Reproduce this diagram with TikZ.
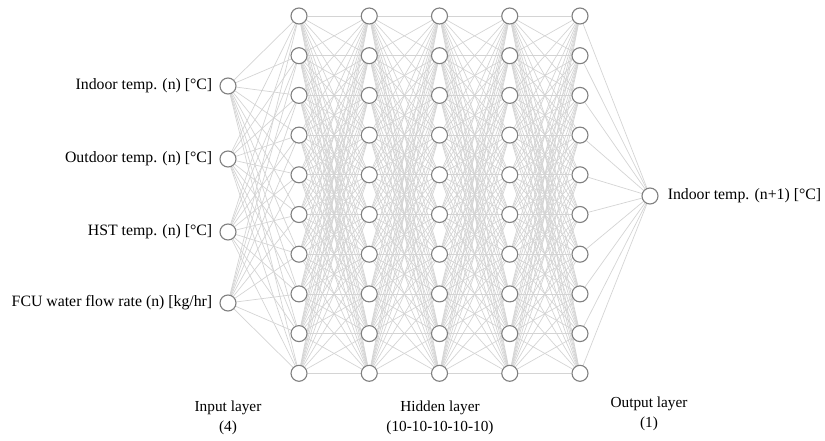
\documentclass[tikz,border=0pt]{standalone}
\usepackage{fontspec}
\setmainfont{Liberation Serif}
\usetikzlibrary{positioning,backgrounds}
\begin{document}
\begin{tikzpicture}[x=1pt,y=-1pt,
  neuron/.style={circle, draw=black!50, line width=1.1pt, fill=white,
                 minimum size=16pt, inner sep=0pt},
  link/.style={draw=black!17, line width=0.7pt},
  lab/.style={font=\fontsize{15.8}{19.5}\selectfont, inner sep=0pt},
  caption/.style={font=\fontsize{15.3}{19.5}\selectfont, inner sep=0pt, align=center}]
\useasboundingbox (0,0) rectangle (825,441);

% input layer
\foreach \r/\y in {1/86,2/159,3/232,4/303}
  \node[neuron] (i\r) at (228,\y) {};

% hidden layers (5 x 10)
\foreach \c in {1,...,5}
  \foreach \r in {1,...,10}
    \node[neuron] (h\c-\r) at ({299+70.25*(\c-1)},{16+39.7*(\r-1)}) {};

% output layer
\node[neuron] (o) at (650,196) {};

% input and output names
\node[lab, left=7pt of i1] (t1) {Indoor temp. (n) [°C]};
\node[lab, left=7pt of i2] (t2) {Outdoor temp. (n) [°C]};
\node[lab, left=7pt of i3] (t3) {HST temp. (n) [°C]};
\node[lab, left=7pt of i4] (t4) {FCU water flow rate (n) [kg/hr]};
\node[lab, right=9pt of o] (to) {Indoor temp. (n+1) [°C]};

% layer captions
\node[caption] (ci) at (228,418) {Input layer\\(4)};
\node[caption] (ch) at (440,418) {Hidden layer\\(10-10-10-10-10)};
\node[caption] (co) at (649,414) {Output layer\\(1)};

% connections
\begin{scope}[on background layer]
  \foreach \a in {1,...,4}
    \foreach \b in {1,...,10}
      \draw[link] (i\a) -- (h1-\b);
  \foreach \c [evaluate=\c as \n using int(\c+1)] in {1,...,4}
    \foreach \a in {1,...,10}
      \foreach \b in {1,...,10}
        \draw[link] (h\c-\a) -- (h\n-\b);
  \foreach \b in {1,...,10}
    \draw[link] (h5-\b) -- (o);
\end{scope}
\end{tikzpicture}
\end{document}
